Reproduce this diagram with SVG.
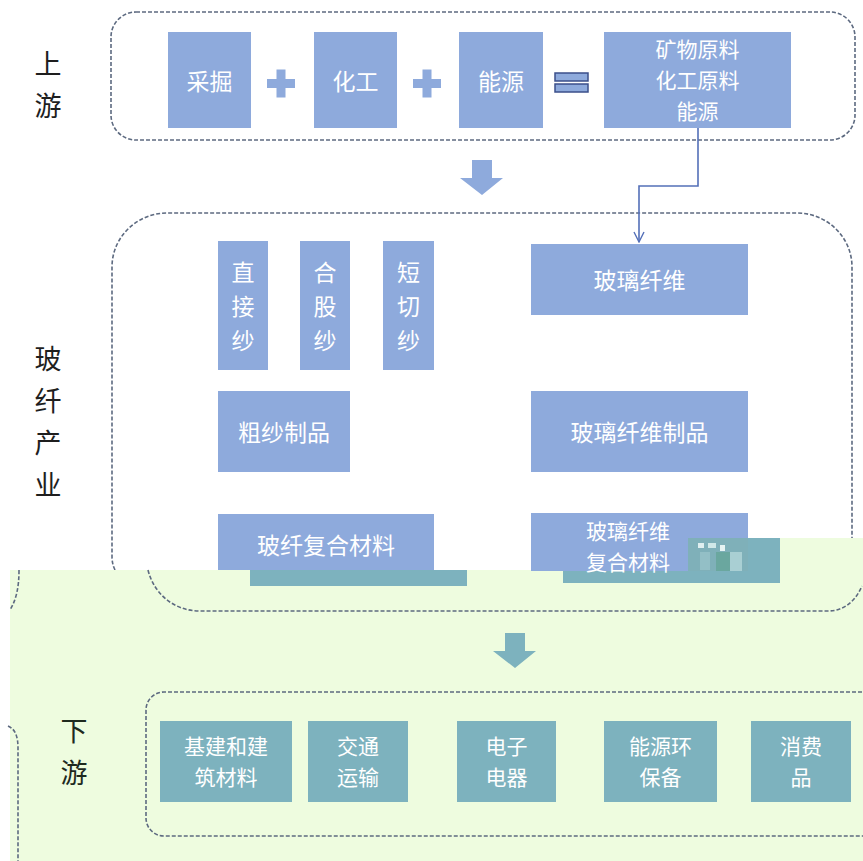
<svg xmlns="http://www.w3.org/2000/svg" width="863" height="861" viewBox="0 0 863 861">
<style>
.bx{fill:#8eaadc}
.tl{fill:#7db2be}
.gr{fill:#eefcdf}
.dash{fill:none;stroke:#5d6a80;stroke-width:1.6;stroke-dasharray:4 2}
.wt{font-family:"Noto Sans CJK SC","Noto Sans",sans-serif;fill:#ffffff;font-size:23px;text-anchor:middle;dominant-baseline:central}
.w2{font-family:"Noto Sans CJK SC","Noto Sans",sans-serif;fill:#ffffff;font-size:21px;text-anchor:middle;dominant-baseline:central}
.vt{font-family:"Noto Sans CJK SC","Noto Sans",sans-serif;fill:#ffffff;font-size:23px;text-anchor:middle;dominant-baseline:central}
.lb{font-family:"Noto Sans CJK SC","Noto Sans",sans-serif;fill:#1e1e1e;font-size:27px;text-anchor:middle;dominant-baseline:central}
.lbg{font-family:"Noto Sans CJK SC","Noto Sans",sans-serif;fill:#1e2a1e;font-size:27px;text-anchor:middle;dominant-baseline:central}
.conn{fill:none;stroke:#5470b8;stroke-width:1.6}
</style>
<defs>
<marker id="open" viewBox="0 0 12 12" refX="11" refY="6" markerWidth="12" markerHeight="12" markerUnits="userSpaceOnUse" orient="auto">
<path d="M1,1 L11,6 L1,11" fill="none" stroke="#5470b8" stroke-width="1.4"/>
</marker>
</defs>
<rect width="863" height="861" fill="#ffffff"/>

<!-- upstream section -->
<g id="upstream-container">
<rect class="dash" x="111" y="12" width="744" height="128" rx="25" ry="25"/>
<text class="lb" x="48" y="62">上</text>
<text class="lb" x="48" y="104">游</text>
</g>
<g id="node-caijue"><rect class="bx" x="168" y="32" width="83" height="96"/><text class="wt" x="209.5" y="80">采掘</text></g>
<g id="plus1"><rect class="bx" x="267" y="79" width="28" height="9"/><rect class="bx" x="276.5" y="69.5" width="9" height="28"/></g>
<g id="node-huagong"><rect class="bx" x="314" y="32" width="83" height="96"/><text class="wt" x="355.5" y="80">化工</text></g>
<g id="plus2"><rect class="bx" x="413" y="79" width="28" height="9"/><rect class="bx" x="422.5" y="69.5" width="9" height="28"/></g>
<g id="node-nengyuan"><rect class="bx" x="459" y="32" width="84" height="96"/><text class="wt" x="501" y="80">能源</text></g>
<g id="equals"><rect x="555" y="73" width="33" height="8" fill="#8eaadc" stroke="#3b4f8a" stroke-width="1.5"/><rect x="555" y="84" width="33" height="8" fill="#8eaadc" stroke="#3b4f8a" stroke-width="1.5"/></g>
<g id="node-raw"><rect class="bx" x="604" y="32" width="187" height="96"/>
<text class="w2" x="697.5" y="48">矿物原料</text>
<text class="w2" x="697.5" y="79">化工原料</text>
<text class="w2" x="697.5" y="110">能源</text></g>

<g id="arrow-top"><path d="M472,160 H492 V178 H503 L482,195 L460,178 H472 Z" fill="#8eaadc"/></g>

<!-- glass fibre industry section -->
<g id="industry-container">
<path class="dash" d="M115,570 C113,566 112,562 112,556 V267 C112,237 137,213 167,213 H797 C827,213 852,237 852,267 V538"/>
<text class="lb" x="48" y="357">玻</text>
<text class="lb" x="48" y="399">纤</text>
<text class="lb" x="48" y="441">产</text>
<text class="lb" x="48" y="483">业</text>
</g>
<g id="node-zhijiesha"><rect class="bx" x="218" y="241" width="50" height="129"/>
<text class="vt" x="243" y="271">直</text><text class="vt" x="243" y="305">接</text><text class="vt" x="243" y="339">纱</text></g>
<g id="node-hegusha"><rect class="bx" x="300" y="241" width="50" height="129"/>
<text class="vt" x="325" y="271">合</text><text class="vt" x="325" y="305">股</text><text class="vt" x="325" y="339">纱</text></g>
<g id="node-duanqiesha"><rect class="bx" x="383" y="241" width="51" height="129"/>
<text class="vt" x="408.5" y="271">短</text><text class="vt" x="408.5" y="305">切</text><text class="vt" x="408.5" y="339">纱</text></g>
<g id="node-boliqianwei"><rect class="bx" x="531" y="244" width="217" height="71"/><text class="wt" x="639.5" y="279">玻璃纤维</text></g>
<g id="node-cushazhipin"><rect class="bx" x="218" y="391" width="132" height="81"/><text class="wt" x="284" y="431">粗纱制品</text></g>
<g id="node-bolizhipin"><rect class="bx" x="531" y="391" width="217" height="81"/><text class="wt" x="639.5" y="431">玻璃纤维制品</text></g>

<!-- green overlay band -->
<g id="overlay">
<rect class="gr" x="10" y="570" width="853" height="291"/>
<rect class="gr" x="748" y="538" width="115" height="32"/>
</g>

<g id="node-boxianfuhe">
<rect class="tl" x="250" y="570" width="217" height="16"/>
<rect class="bx" x="218" y="514" width="216" height="56"/>
<text class="wt" x="326" y="544">玻纤复合材料</text>
</g>
<g id="node-bolifuhe">
<rect class="tl" x="563" y="538" width="217" height="45"/>
<rect class="bx" x="531" y="513" width="157" height="58"/>
<rect class="bx" x="688" y="513" width="60" height="25"/>
<text class="w2" x="628" y="530">玻璃纤维</text>
<text class="w2" x="628" y="561">复合材料</text>
<rect x="688" y="538" width="60" height="33" fill="#7fb0b9"/>
<rect x="698" y="543" width="6" height="5" fill="#dfeff0"/>
<rect x="708" y="543" width="8" height="5" fill="#d0e8e8"/>
<rect x="720" y="545" width="5" height="6" fill="#e6f3f3"/>
<rect x="700" y="552" width="10" height="18" fill="#93bfc6"/>
<rect x="716" y="552" width="14" height="19" fill="#6aa79f"/>
<rect x="730" y="552" width="12" height="19" fill="#a9cfd3"/>
</g>

<g id="overlay-lines">
<path class="dash" d="M148,570 C154,594 174,611 200,611 H828 C845,611 856,600 862,586"/>
<path class="dash" d="M19,570 C19,588 16,600 10,610"/>
<path class="dash" d="M8,726 C15,729 18,736 18,748 V861"/>
</g>

<g id="arrow-bottom"><path d="M505,633 H525 V651 H536 L515,668 L493,651 H505 Z" fill="#7db2be"/></g>

<!-- downstream section -->
<g id="downstream-container">
<path class="dash" d="M868,692 H164 C154,692 146,700 146,710 V818 C146,828 154,836 164,836 H868"/>
<text class="lbg" x="74" y="729">下</text>
<text class="lbg" x="74" y="771">游</text>
</g>
<g id="node-jianzhu"><rect class="tl" x="160" y="721" width="132" height="81"/><text class="w2" x="226" y="745">基建和建</text><text class="w2" x="226" y="776">筑材料</text></g>
<g id="node-jiaotong"><rect class="tl" x="308" y="721" width="100" height="81"/><text class="w2" x="358" y="745">交通</text><text class="w2" x="358" y="776">运输</text></g>
<g id="node-dianzi"><rect class="tl" x="457" y="721" width="99" height="81"/><text class="w2" x="506.5" y="745">电子</text><text class="w2" x="506.5" y="776">电器</text></g>
<g id="node-nengyuanhb"><rect class="tl" x="604" y="721" width="113" height="81"/><text class="w2" x="660.5" y="745">能源环</text><text class="w2" x="660.5" y="776">保备</text></g>
<g id="node-xiaofei"><rect class="tl" x="751" y="721" width="100" height="81"/><text class="w2" x="801" y="745">消费</text><text class="w2" x="801" y="776">品</text></g>

<g id="connectors">
<path class="conn" d="M698,128 V186 H639 V242" marker-end="url(#open)"/>
</g>
</svg>
